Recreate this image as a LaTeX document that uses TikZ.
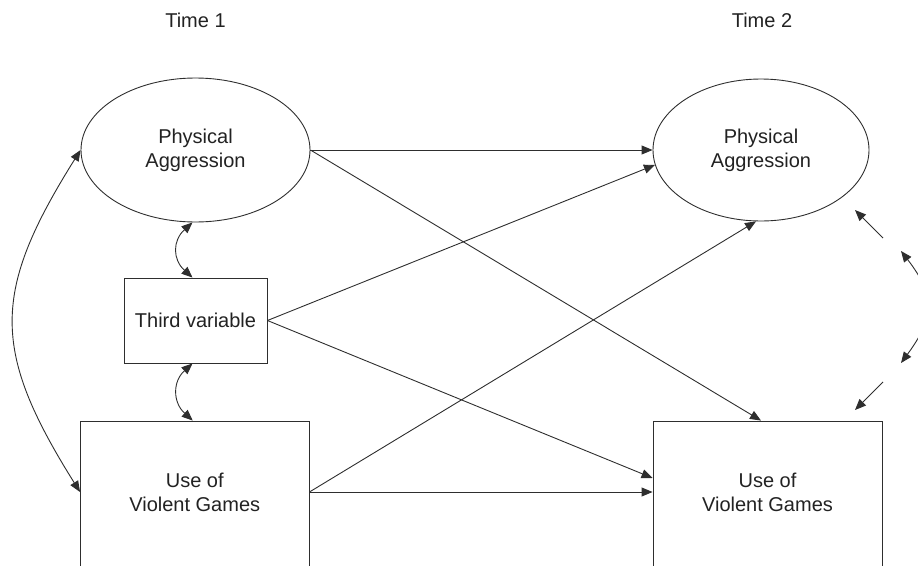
\documentclass[tikz,border=0pt]{standalone}
\usepackage{fontspec}
\setmainfont{Liberation Sans}
\usetikzlibrary{arrows.meta,shapes.geometric}
\definecolor{ln}{HTML}{2E2E2E}
\definecolor{tx}{HTML}{222222}
\tikzset{
  lbl/.style={font=\fontsize{20}{24}\selectfont, text=tx, align=center},
  ell/.style={ellipse, draw=ln, line width=0.9pt, inner sep=0pt, lbl},
  box/.style={rectangle, draw=ln, line width=0.9pt, inner sep=0pt},
  arr/.style={draw=ln, line width=0.9pt, -{Triangle[length=11pt,width=9pt]}},
  darr/.style={draw=ln, line width=0.9pt, {Triangle[length=11pt,width=9pt]}-{Triangle[length=11pt,width=9pt]}},
}
\begin{document}
\begin{tikzpicture}[x=1pt,y=-1pt]
\useasboundingbox (0,0) rectangle (918,565);
\clip (0,0) rectangle (918,565);
\node[lbl] (t1) at (195.5,20) {Time 1};
\node[lbl] (t2) at (762,20) {Time 2};
\node[ell, minimum width=229pt, minimum height=144pt] (pa1) at (195.5,150) {Physical\\Aggression};
\node[ell, minimum width=216pt, minimum height=142pt] (pa2) at (761,150) {Physical\\Aggression};
\node[box, lbl, minimum width=143pt, minimum height=85pt] (tv) at (195.5,320.5) {Third variable};
\node[box, minimum width=228.5pt, minimum height=179pt] (uvg1) at (194.75,510.5) {};
\node[lbl] (uvg1t) at (194.75,492) {Use of\\Violent Games};
\node[box, minimum width=229pt, minimum height=179pt] (uvg2) at (767.5,510.5) {};
\node[lbl] (uvg2t) at (767.5,492) {Use of\\Violent Games};
% paths
\draw[arr] (pa1.east) -- (pa2.west);
\draw[arr] (pa1.east) -- (pa2.south |- uvg2.north);
\draw[arr] (tv.east) -- (pa2.188);
\draw[arr] (tv.east) -- ([yshift=14pt]uvg2t.west -| uvg2.west);
\draw[arr] (uvg1t -| uvg1.east) -- (uvg2t -| uvg2.west);
\draw[arr] (uvg1t -| uvg1.east) -- (pa2.266);
% correlations
\draw[darr] (pa1.west) .. controls +(-89,142) and +(-89,-142) .. (uvg1t -| uvg1.west);
\draw[darr] ([xshift=-3pt]pa1.south) .. controls +(-20,18) and +(-20,-18) .. ([xshift=-3pt]tv.north);
\draw[darr] ([xshift=-3pt]tv.south) .. controls +(-20,18) and +(-20,-18) .. ([xshift=-2pt]uvg1.north);
% residuals (cut off at right edge)
\coordinate (e1) at (883,238);
\coordinate (e2) at (883,382);
\coordinate (pa2r) at (855,210);
\coordinate (uvg2r) at (855,410);
\coordinate (c1) at (901,251);
\coordinate (c2) at (901,363);
\draw[arr] (e1) -- (pa2r);
\draw[arr] (e2) -- (uvg2r);
\draw[darr] (c1) .. controls +(34,44) and +(34,-46) .. (c2);
\end{tikzpicture}
\end{document}
